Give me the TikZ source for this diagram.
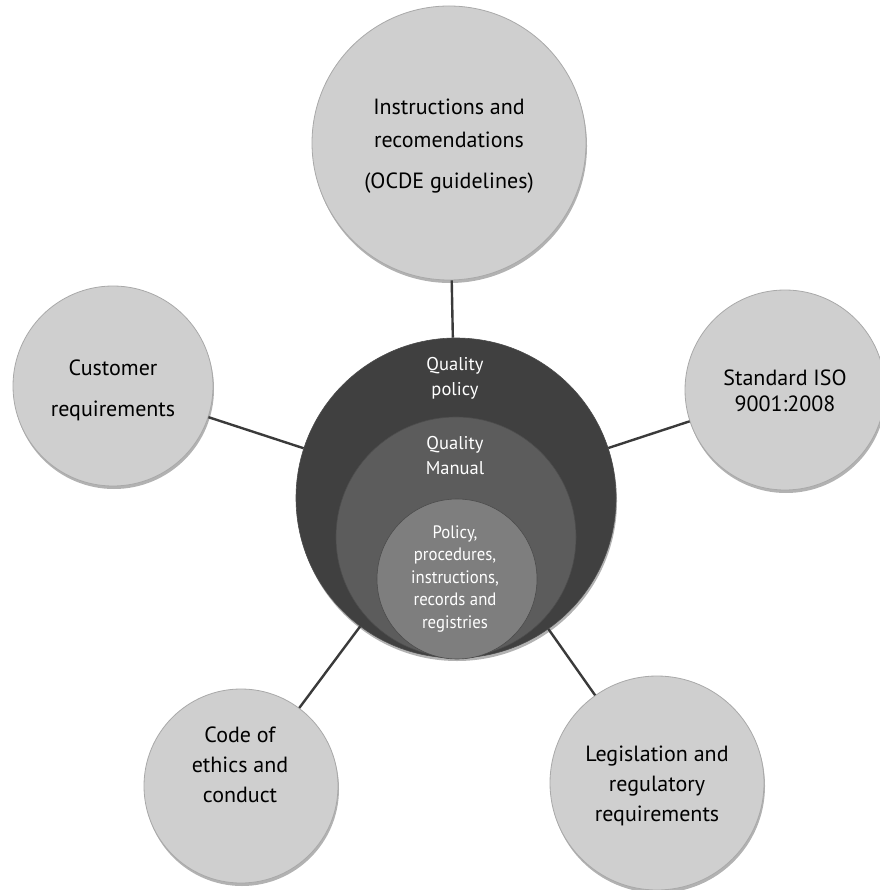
\documentclass[tikz,border=0pt]{standalone}
\usepackage{fontspec}
\setmainfont{PT Sans}
\newfontfamily\narrowfont[FakeStretch=0.93]{PT Sans}
\usetikzlibrary{shadows}
\definecolor{outerfill}{HTML}{CFCFCF}
\definecolor{outeredge}{HTML}{A9A9A9}
\definecolor{darkfill}{HTML}{404040}
\definecolor{midfill}{HTML}{5C5C5C}
\definecolor{innerfill}{HTML}{7E7E7E}
\definecolor{linkcol}{HTML}{3A3A3A}
\begin{document}
\begin{tikzpicture}[x=1pt,y=-1pt,
  outerc/.style={circle, fill=outerfill, draw=outeredge, line width=0.8pt,
    minimum size=#1, inner sep=0pt,
    drop shadow={shadow xshift=1pt,shadow yshift=-3pt,opacity=0.3,fill=black}},
  centerc/.style={circle, draw=black!70, line width=0.6pt, minimum size=#1, inner sep=0pt},
  otext/.style={align=center, text=black, font=\fontsize{22}{#1}\selectfont, inner sep=0pt},
  wtext/.style={align=center, text=white, font=\fontsize{18.5}{25}\selectfont, inner sep=0pt},
  link/.style={draw=linkcol, line width=2.4pt}]
\useasboundingbox (0,0) rectangle (879,890);
% outer circles
\node[outerc=274] (top) at (449,143) {};
\node[outerc=200] (left) at (113,386) {};
\node[outerc=200] (right) at (785,390) {};
\node[outerc=194] (bl) at (241,786) {};
\node[outerc=214] (br) at (657,783) {};
% central circles
\node[centerc=320, fill=darkfill, drop shadow={shadow xshift=1pt,shadow yshift=-3pt,opacity=0.3,fill=black}] (dark) at (456,498) {};
\node[centerc=240, fill=midfill] (mid) at (456,537) {};
\node[centerc=160, fill=innerfill] (inner) at (457,579) {};
% connectors
\draw[link] (top) -- (dark);
\draw[link] (left) -- (dark);
\draw[link] (right) -- (dark);
\draw[link] (bl) -- (dark);
\draw[link] (br) -- (dark);
% texts
\node[otext=33] (toptext) at (449,146) {Instructions and\\recomendations\\[8pt](OCDE guidelines)};
\node[otext=30] (lefttext) at (113,390) {Customer\\[11pt]requirements};
\node[otext=26] (righttext) at (785,391) {Standard ISO\\9001:2008};
\node[otext=30] (bltext) at (240,765) {Code of\\ethics and\\conduct};
\node[otext=30] (brtext) at (657,786) {Legislation and\\regulatory\\requirements};
\node[wtext] (darktext) at (455,378) {Quality\\policy};
\node[wtext] (midtext) at (455,456) {Quality\\Manual};
\node[align=center, text=white, font=\narrowfont\fontsize{18}{22.5}\selectfont, inner sep=0pt] (innertext) at (455,579) {Policy,\\procedures,\\instructions,\\records and\\registries};
\end{tikzpicture}
\end{document}
